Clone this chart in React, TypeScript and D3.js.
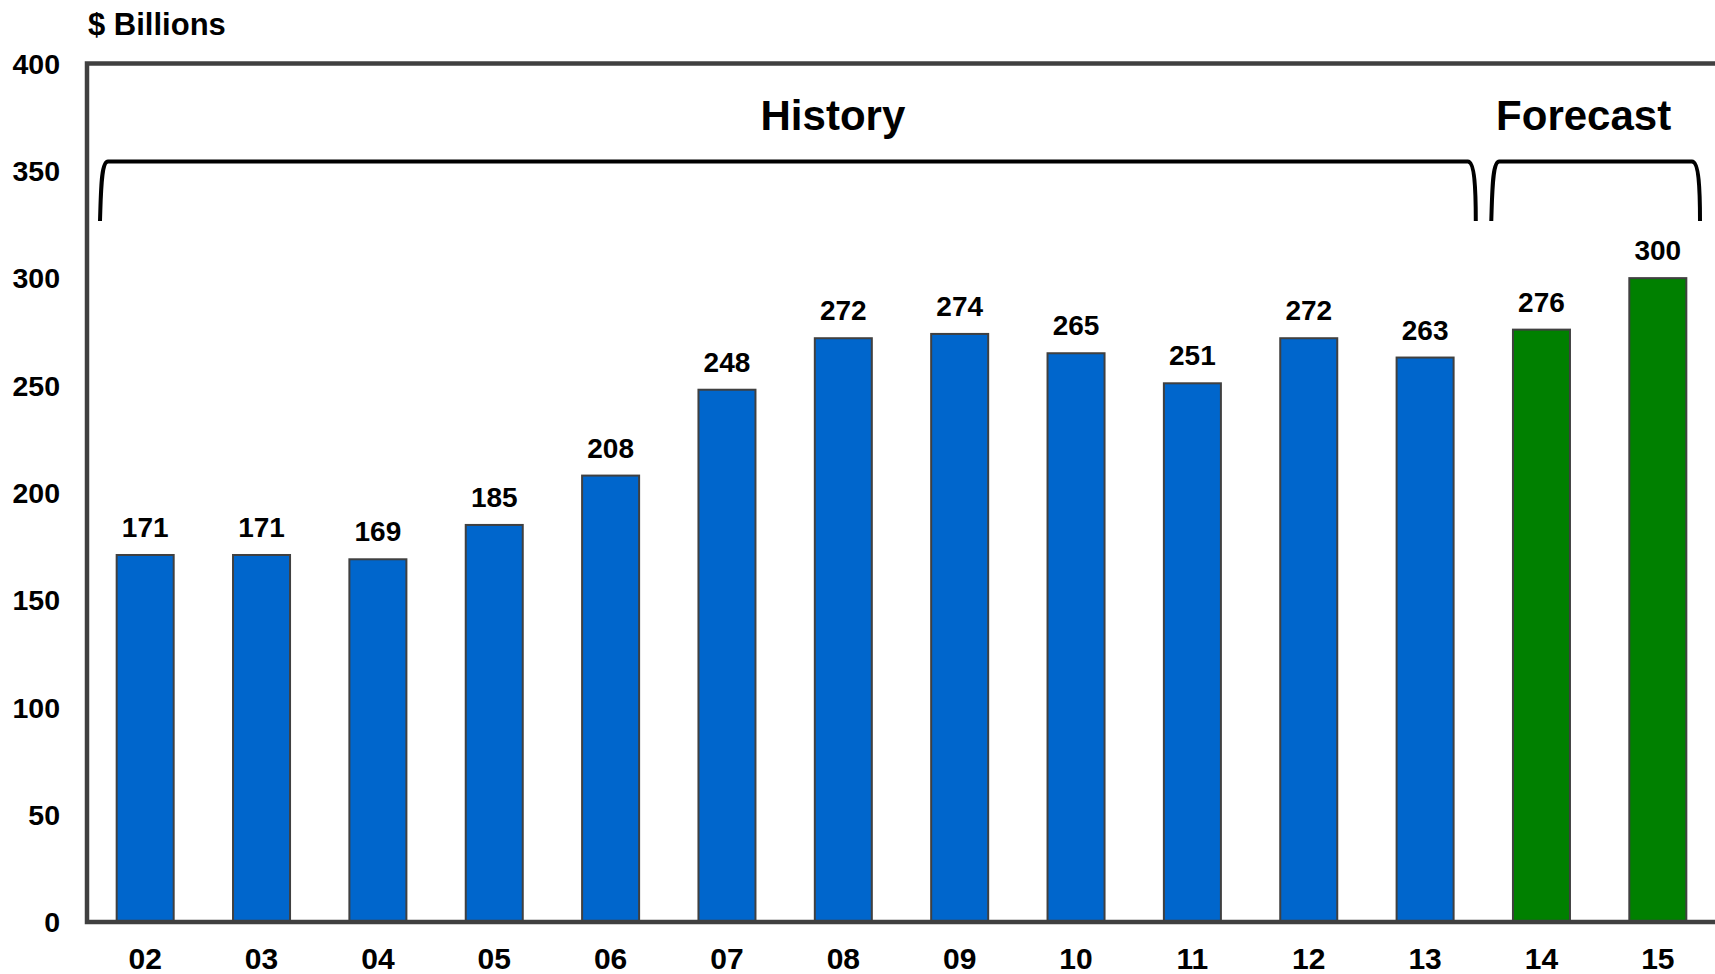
import React from "react";
import * as d3 from "d3";

const years = ["02", "03", "04", "05", "06", "07", "08", "09", "10", "11", "12", "13", "14", "15"];
const values = [171, 171, 169, 185, 208, 248, 272, 274, 265, 251, 272, 263, 276, 300];
const kinds = ["h", "h", "h", "h", "h", "h", "h", "h", "h", "h", "h", "h", "f", "f"];
const yTicks = [0, 50, 100, 150, 200, 250, 300, 350, 400];

const W = 1715;
const H = 974;
const FONT = "Arial, 'Liberation Sans', Helvetica, sans-serif";
const AXIS = "#404040";

export default function App() {
  const left = 87;
  const right = 1716;
  const top = 63.5;
  const bottom = 922;

  const x = d3.scaleBand<string>().domain(years).range([left, right]).paddingInner(0.51).paddingOuter(0.255);
  const y = d3.scaleLinear().domain([0, 400]).range([bottom, top]);
  const step = x.step();

  const histStart = left + 13;
  const histEnd = left + 12 * step - 7.5;
  const foreStart = left + 12 * step + 8;
  const foreEnd = right - 16;
  const legBottom = 221;
  const lineY = 161.5;

  const bracket = (a: number, b: number) =>
    `M ${a} ${legBottom} C ${a + 1} ${legBottom - 30}, ${a + 1} ${lineY}, ${a + 8} ${lineY} L ${b - 8} ${lineY} C ${b - 1} ${lineY}, ${b} ${legBottom - 30}, ${b} ${legBottom}`;

  return (
    <svg width={W} height={H} style={{ position: "absolute", left: 0, top: 0, background: "#fff" }} fontFamily={FONT} fontWeight="bold">
      <text x={88} y={35} fontSize={31} fill="#000">$ Billions</text>

      {yTicks.map((t) => (
        <text key={t} x={60} y={y(t)} dy="0.36em" textAnchor="end" fontSize={28.5} fill="#000">{t}</text>
      ))}

      {years.map((yr, i) => {
        const x0 = x(yr)!;
        return (
          <g key={yr}>
            <rect
              x={x0}
              y={y(values[i])}
              width={x.bandwidth()}
              height={bottom - y(values[i])}
              fill={kinds[i] === "f" ? "#008000" : "#0066CC"}
              stroke={AXIS}
              strokeWidth={2}
            />
            <text x={x0 + x.bandwidth() / 2} y={y(values[i]) - 18} textAnchor="middle" fontSize={28} fill="#000">{values[i]}</text>
            <text x={x0 + x.bandwidth() / 2} y={969} textAnchor="middle" fontSize={30} fill="#000">{yr}</text>
          </g>
        );
      })}

      <path d={`M ${right} ${top} L ${left} ${top} L ${left} ${bottom} L ${right} ${bottom}`} fill="none" stroke={AXIS} strokeWidth={4.5} />

      <path d={bracket(histStart, histEnd)} fill="none" stroke="#000" strokeWidth={4} />
      <path d={bracket(foreStart, foreEnd)} fill="none" stroke="#000" strokeWidth={4} />

      <text x={(histStart + histEnd) / 2 + 45} y={130} textAnchor="middle" fontSize={42} fill="#000">History</text>
      <text x={(foreStart + foreEnd) / 2 - 12} y={130} textAnchor="middle" fontSize={42} fill="#000">Forecast</text>
    </svg>
  );
}
